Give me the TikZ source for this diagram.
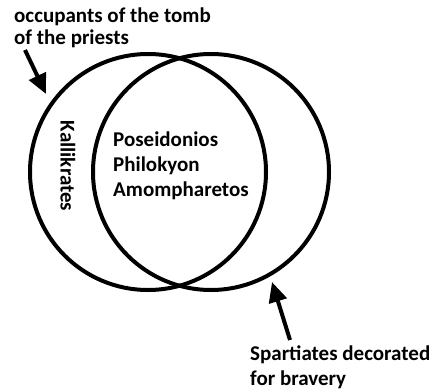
\documentclass[tikz,border=0pt]{standalone}
\usepackage{fontspec}
\setmainfont{Carlito}
\usetikzlibrary{arrows.meta}

\begin{document}
\begin{tikzpicture}[x=1pt, y=-1pt,
  set/.style={circle, draw, line width=4pt, minimum size=236pt, inner sep=0pt},
  lbl/.style={font=\fontsize{21}{25}\selectfont\bfseries, align=left, inner sep=0pt},
  pointer/.style={line width=4pt, -{Triangle[width=18pt, length=20pt]}}]
  \useasboundingbox (0,0) rectangle (439,391);
  \node[set] (tomb) at (148,172) {};
  \node[set] (brave) at (211,172) {};
  \node[lbl, rotate=-90] (kalli) at (68,166) {Kallikrates};
  \node[lbl, anchor=north west] (both) at (113,132) {Poseidonios\\Philokyon\\Amompharetos};
  \node[lbl, anchor=north west, font=\fontsize{21}{22}\selectfont\bfseries] (tombtext) at (14,8) {occupants of the tomb\\of the priests};
  \node[lbl, anchor=north west] (bravetext) at (250,346) {Spartiates decorated\\for bravery};
  \coordinate (tombtail) at (25,50);
  \coordinate (tombtip) at (46,94);
  \coordinate (bravetail) at (290,340);
  \coordinate (bravetip) at (272,282);
  \draw[pointer] (tombtail) -- (tombtip);
  \draw[pointer] (bravetail) -- (bravetip);
\end{tikzpicture}
\end{document}
